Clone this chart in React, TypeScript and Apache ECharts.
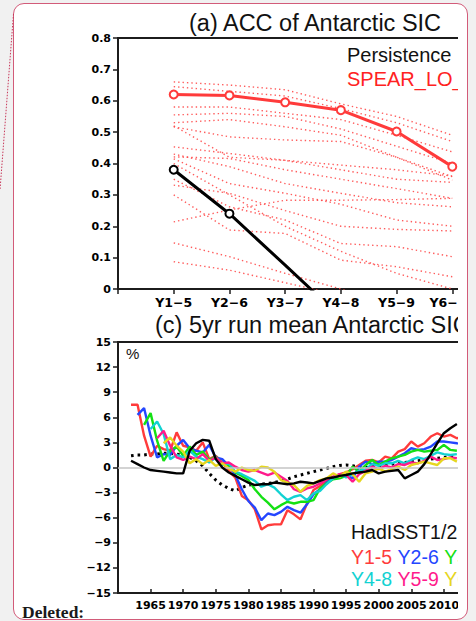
import React, { useEffect, useRef } from 'react';
import * as echarts from 'echarts';

// ---------- Panel (a): ACC of Antarctic SIC ----------
const leadLabels = ['Y1−5', 'Y2−6', 'Y3−7', 'Y4−8', 'Y5−9', 'Y6−10'];
const spearMean = [0.62, 0.617, 0.595, 0.57, 0.502, 0.39];
const persistence = [0.38, 0.24, 0.076, -0.09, -0.2, -0.3];
const memberAcc: number[][] = [
  [0.66, 0.65, 0.635, 0.59, 0.55, 0.49],
  [0.645, 0.63, 0.615, 0.575, 0.53, 0.47],
  [0.58, 0.58, 0.56, 0.54, 0.49, 0.437],
  [0.555, 0.56, 0.55, 0.51, 0.455, 0.4],
  [0.53, 0.54, 0.517, 0.49, 0.42, 0.358],
  [0.517, 0.485, 0.475, 0.47, 0.42, 0.347],
  [0.52, 0.42, 0.41, 0.395, 0.38, 0.36],
  [0.453, 0.432, 0.41, 0.38, 0.35, 0.34],
  [0.421, 0.416, 0.38, 0.35, 0.32, 0.289],
  [0.43, 0.39, 0.336, 0.305, 0.275, 0.262],
  [0.415, 0.336, 0.305, 0.27, 0.22, 0.2],
  [0.331, 0.305, 0.25, 0.2, 0.19, 0.185],
  [0.35, 0.262, 0.22, 0.145, 0.135, 0.103],
  [0.214, 0.252, 0.283, 0.283, 0.285, 0.289],
  [0.147, 0.103, 0.05, 0.0, -0.05, -0.1],
  [0.087, 0.06, 0.02, -0.02, -0.05, -0.08],
  [0.3, 0.188, 0.177, 0.092, 0.071, 0.039],
  [0.4, 0.3, 0.2, 0.12, 0.05, 0.0],
];

// ---------- Panel (c): 5yr running mean Antarctic SIC (%) ----------
const yTicksC = [-15, -12, -9, -6, -3, 0, 3, 6, 9, 12, 15];
const hadisstStart = 1962;
const hadisst = [0.8, 0.4, 0.0, -0.3, -0.4, -0.5, -0.6, -0.7, -0.7, 2.0, 2.9, 3.3, 3.2, 1.0, 0.0, -0.6, -1.0, -1.4, -1.8, -2.1, -2.0, -2.0, -1.8, -1.9, -2.0, -1.9, -1.7, -1.8, -1.9, -1.6, -1.3, -1.2, -1.0, -0.9, -0.7, -0.6, -0.5, -0.3, -0.7, -0.5, -0.4, -0.3, -1.3, -0.9, -0.5, 0.4, 1.6, 2.9, 4.1, 4.7, 5.2];
const dottedStart = 1962;
const dottedRef = [1.4, 1.5, 1.5, 1.6, 1.6, 1.7, 1.7, 1.6, 1.5, 1.2, 0.8, 0.2, -0.7, -1.5, -2.1, -2.5, -2.8, -2.4, -2.1, -2.0, -2.0, -1.9, -1.8, -1.6, -1.4, -1.1, -0.9, -0.7, -0.5, -0.3, -0.1, 0.1, 0.25, 0.3, 0.2, 0.1, 0.0, 0.1, 0.2, 0.3, 0.4, 0.5, 0.6, 0.7, 0.8, 0.9, 1.0, 1.1, 1.2, 1.3, 1.3];
const y15Start = 1962;
const y15 = [7.5, 7.5, 3.8, 1.3, 2.6, 2.2, 2.0, 4.2, 2.6, 2.4, 2.0, 3.0, 1.0, 1.4, 0.6, -0.4, -1.2, -3.4, -3.9, -5.0, -7.4, -6.9, -6.8, -6.8, -5.1, -5.6, -6.2, -4.3, -2.7, -2.2, -1.6, -1.2, -0.8, -0.6, -0.2, 0.3, 0.8, 0.9, 0.6, 1.3, 1.1, 1.9, 2.2, 3.1, 2.5, 2.9, 3.7, 4.1, 3.7, 3.9, 3.5, 3.6];
const y26Start = 1963;
const y26 = [6.3, 7.1, 3.8, 1.2, 1.6, 1.5, 2.6, 3.3, 2.3, 2.0, 1.8, 2.7, 1.2, 1.0, 0.2, -0.9, -2.6, -4.0, -4.8, -6.3, -5.5, -5.7, -5.3, -4.7, -5.1, -5.4, -4.4, -3.2, -2.6, -1.8, -1.3, -1.1, -0.9, -1.3, 0.1, 0.7, 0.4, 0.7, 0.7, 0.9, 1.3, 1.7, 2.3, 2.1, 2.2, 2.5, 3.1, 3.1, 3.0, 2.9, 2.8];
const y37Start = 1964;
const y37 = [5.1, 6.5, 3.2, 0.8, 2.0, 2.5, 1.4, 2.5, 1.5, 1.9, 0.9, 1.3, 0.4, 0.2, -0.6, -1.0, -1.5, -2.6, -3.5, -4.2, -5.0, -4.5, -4.1, -4.3, -4.1, -4.1, -3.9, -2.5, -1.9, -1.4, -1.3, -1.0, 0.1, -0.5, 0.3, 0.9, 0.3, 0.7, 1.1, 1.3, 1.5, 1.9, 2.1, 1.9, 2.0, 2.1, 2.7, 2.1, 2.0];
const y48Start = 1965;
const y48 = [4.6, 5.5, 4.0, 1.0, 1.5, 1.2, 2.0, 1.3, 1.0, 0.6, 1.2, 0.3, 0.5, -0.5, -0.8, -1.2, -1.6, -2.3, -2.0, -2.4, -3.2, -3.9, -3.5, -3.3, -3.9, -3.1, -2.8, -2.0, -1.3, -0.8, -1.2, -0.8, -0.4, -0.2, 0.4, 0.2, 0.5, 0.5, 0.8, 0.5, 0.9, 1.2, 1.0, 1.4, 1.8, 1.6, 1.5, 1.6];
const y59Start = 1966;
const y59 = [3.5, 4.4, 2.6, 1.2, 0.9, 1.3, 1.0, 1.6, 0.8, 1.2, 0.5, 0.6, 0.1, -0.3, -0.5, -0.3, -0.6, -0.9, -0.6, -1.1, -1.6, -2.6, -2.9, -2.5, -2.3, -1.9, -1.4, -1.1, -0.8, -0.9, -1.7, -0.8, -0.4, 0.1, -0.2, 0.2, 0.0, 0.4, 0.3, 0.6, 0.5, 0.8, 1.3, 0.9, 1.0, 1.2, 1.1];
const y610Start = 1967;
const y610 = [2.9, 3.6, 2.6, 1.9, 0.5, 1.0, 0.4, 0.9, 0.2, 0.5, -0.1, -0.5, 0.0, -0.3, -0.4, 0.1, 0.0, -0.5, -1.5, -1.8, -2.1, -2.9, -2.2, -1.9, -1.5, -1.3, -0.7, -1.1, -0.5, -0.8, -1.7, -0.7, -0.5, -0.1, -0.5, -0.2, 0.1, -0.3, 0.3, 0.5, 0.7, 0.5, 0.3, 1.1, 1.1, 0.7];

const C_RED = '#ff3b3b';
const C_BLUE = '#2446ff';
const C_GREEN = '#14e014';
const C_CYAN = '#12d2d2';
const C_MAG = '#ff1a8c';
const C_YEL = '#e6d61e';
const AX = '#1c1c1c';
const SANS = "'Liberation Sans', Arial, Helvetica, sans-serif";
const BOLDNUM = "'DejaVu Sans', sans-serif";

const toPairs = (start: number, vals: number[]) => vals.map((v, i) => [start + i, v]);

export default function App() {
  const ref = useRef<HTMLDivElement>(null);

  useEffect(() => {
    if (!ref.current) return;
    const chart = echarts.init(ref.current, null, { renderer: 'svg' });

    const axisCommon = {
      axisLine: { show: true, onZero: false, lineStyle: { color: AX, width: 2 } },
      splitLine: { show: false },
    };

    const memberSeries = memberAcc.map((m) => ({
      type: 'line',
      xAxisIndex: 0,
      yAxisIndex: 0,
      data: m.map((v, i) => [i + 1, v]),
      symbol: 'none',
      silent: true,
      z: 2,
      lineStyle: { color: '#ff4a4a', width: 1.4, type: [1.4, 3], opacity: 0.9 },
    }));

    const colored = [
      { start: y15Start, vals: y15, color: C_RED },
      { start: y26Start, vals: y26, color: C_BLUE },
      { start: y37Start, vals: y37, color: C_GREEN },
      { start: y48Start, vals: y48, color: C_CYAN },
      { start: y59Start, vals: y59, color: C_MAG },
      { start: y610Start, vals: y610, color: C_YEL },
    ].map((s) => ({
      type: 'line',
      xAxisIndex: 1,
      yAxisIndex: 1,
      data: toPairs(s.start, s.vals),
      symbol: 'none',
      silent: true,
      z: 3,
      lineStyle: { color: s.color, width: 2.4 },
    }));

    const richFont = { fontSize: 19.5, fontFamily: SANS };

    chart.setOption({
      animation: false,
      grid: [
        { left: 118, top: 38, width: 390, height: 251, show: true, borderColor: AX, borderWidth: 2, backgroundColor: 'transparent', containLabel: false, outerBoundsMode: 'none' },
        { left: 118, top: 342, width: 391, height: 251, show: true, borderColor: AX, borderWidth: 2, backgroundColor: 'transparent', containLabel: false, outerBoundsMode: 'none' },
      ],
      xAxis: [
        {
          ...axisCommon,
          gridIndex: 0,
          type: 'value',
          min: 0,
          max: 7,
          interval: 1,
          axisTick: { show: true, inside: false, length: 5, lineStyle: { color: AX, width: 1.5 } },
          axisLabel: {
            formatter: (v: number) => leadLabels[v - 1] ?? '',
            fontFamily: BOLDNUM,
            fontWeight: 'bold',
            fontSize: 12.5,
            color: '#000',
            margin: 7,
            hideOverlap: false,
          },
        },
        {
          ...axisCommon,
          gridIndex: 1,
          type: 'value',
          min: 1960,
          max: 2020,
          interval: 5,
          axisTick: { show: true, inside: true, length: 4, lineStyle: { color: AX, width: 1.5 } },
          axisLabel: {
            formatter: (v: number) => (v === 1960 ? '' : String(v)),
            fontFamily: BOLDNUM,
            fontWeight: 'bold',
            fontSize: 11,
            color: '#000',
            margin: 7,
            hideOverlap: false,
          },
        },
      ],
      yAxis: [
        {
          ...axisCommon,
          gridIndex: 0,
          type: 'value',
          min: 0,
          max: 0.8,
          interval: 0.1,
          axisTick: { show: true, inside: false, length: 5, lineStyle: { color: AX, width: 1.5 } },
          axisLabel: {
            formatter: (v: number) => (Math.abs(v) < 1e-9 ? '0' : v.toFixed(1)),
            fontFamily: BOLDNUM,
            fontWeight: 'bold',
            fontSize: 11,
            color: '#000',
            margin: 7,
          },
        },
        {
          ...axisCommon,
          gridIndex: 1,
          type: 'value',
          min: yTicksC[0],
          max: yTicksC[yTicksC.length - 1],
          interval: 3,
          axisTick: { show: true, inside: false, length: 5, lineStyle: { color: AX, width: 1.5 } },
          axisLabel: {
            formatter: (v: number) => String(v).replace('-', '−'),
            fontFamily: BOLDNUM,
            fontWeight: 'bold',
            fontSize: 11,
            color: '#000',
            margin: 7,
          },
        },
      ],
      series: [
        ...memberSeries,
        {
          type: 'line',
          xAxisIndex: 0,
          yAxisIndex: 0,
          data: spearMean.map((v, i) => [i + 1, v]),
          symbol: 'circle',
          symbolSize: 8,
          silent: true,
          z: 4,
          itemStyle: { color: '#ffffff', borderColor: C_RED, borderWidth: 2 },
          lineStyle: { color: C_RED, width: 3 },
        },
        {
          type: 'line',
          xAxisIndex: 0,
          yAxisIndex: 0,
          data: persistence.map((v, i) => ({ value: [i + 1, v], symbol: i < 2 ? 'circle' : 'none' })),
          symbolSize: 8,
          silent: true,
          z: 4,
          itemStyle: { color: '#ffffff', borderColor: '#000', borderWidth: 2 },
          lineStyle: { color: '#000', width: 3 },
        },
        {
          type: 'line',
          xAxisIndex: 1,
          yAxisIndex: 1,
          data: toPairs(dottedStart, dottedRef),
          symbol: 'none',
          silent: true,
          z: 2,
          lineStyle: { color: '#000', width: 3, type: [2.6, 4], cap: 'butt' },
          markLine: {
            silent: true,
            symbol: 'none',
            label: { show: false },
            lineStyle: { color: '#c4c4c4', width: 1.5, type: 'solid' },
            data: [{ yAxis: 0 }],
          },
        },
        ...colored,
        {
          type: 'line',
          xAxisIndex: 1,
          yAxisIndex: 1,
          data: toPairs(hadisstStart, hadisst),
          symbol: 'none',
          silent: true,
          z: 5,
          lineStyle: { color: '#000', width: 2.4 },
        },
      ],
      graphic: [
        {
          type: 'line',
          silent: true,
          shape: { x1: 13.5, y1: 14, x2: 0, y2: 190 },
          style: { stroke: '#c8385a', lineWidth: 1, lineDash: [1.5, 1.5] },
        },
        {
          type: 'text', silent: true, x: 189, y: 23,
          style: { text: '(a) ACC of Antarctic SIC', fontSize: 23.5, fontFamily: SANS, fill: '#111', align: 'left', verticalAlign: 'middle' },
        },
        {
          type: 'text', silent: true, x: 347, y: 55,
          style: { text: 'Persistence', fontSize: 20, fontFamily: SANS, fill: '#111', align: 'left', verticalAlign: 'middle' },
        },
        {
          type: 'text', silent: true, x: 347, y: 79,
          style: { text: 'SPEAR_LO_', fontSize: 20, fontFamily: SANS, fill: '#ff2222', align: 'left', verticalAlign: 'middle' },
        },
        {
          type: 'text', silent: true, x: 155, y: 325,
          style: { text: '(c) 5yr run mean Antarctic SIC', fontSize: 23.5, fontFamily: SANS, fill: '#111', align: 'left', verticalAlign: 'middle' },
        },
        {
          type: 'text', silent: true, x: 126, y: 353,
          style: { text: '%', fontSize: 15, fontFamily: SANS, fill: '#111', align: 'left', verticalAlign: 'middle' },
        },
        {
          type: 'text', silent: true, x: 351, y: 532,
          style: { text: 'HadISST1/2', fontSize: 19.5, fontFamily: SANS, fill: '#111', align: 'left', verticalAlign: 'middle' },
        },
        {
          type: 'text', silent: true, x: 351, y: 557,
          style: {
            text: '{r|Y1-5} {b|Y2-6} {g|Y3-7}',
            fontSize: 19.5, fontFamily: SANS, fill: '#111', align: 'left', verticalAlign: 'middle',
            rich: {
              r: { ...richFont, fill: C_RED },
              b: { ...richFont, fill: C_BLUE },
              g: { ...richFont, fill: C_GREEN },
            },
          },
        },
        {
          type: 'text', silent: true, x: 351, y: 579,
          style: {
            text: '{c|Y4-8} {m|Y5-9} {y|Y6-10}',
            fontSize: 19.5, fontFamily: SANS, fill: '#111', align: 'left', verticalAlign: 'middle',
            rich: {
              c: { ...richFont, fill: C_CYAN },
              m: { ...richFont, fill: C_MAG },
              y: { ...richFont, fill: C_YEL },
            },
          },
        },
        {
          type: 'text', silent: true, x: 22, y: 612,
          style: { text: 'Deleted:', fontSize: 17.5, fontWeight: 'bold', fontFamily: "'Liberation Serif', 'Times New Roman', serif", fill: '#1a1a1a', align: 'left', verticalAlign: 'middle' },
        },
      ],
    });

    return () => chart.dispose();
  }, []);

  return (
    <div style={{ position: 'fixed', left: 0, top: 0, width: 476, height: 621, background: '#f1f1f1', overflow: 'hidden' }}>
      <div
        style={{
          position: 'absolute', left: 13, top: 3, width: 455, height: 617, boxSizing: 'border-box',
          border: '1.6px solid #d25b79', borderRadius: 11, background: '#ffffff',
        }}
      />
      <div style={{ position: 'absolute', left: 0, top: 0, width: 458, height: 621, overflow: 'hidden' }}>
        <div ref={ref} style={{ width: 560, height: 621 }} />
      </div>
    </div>
  );
}
